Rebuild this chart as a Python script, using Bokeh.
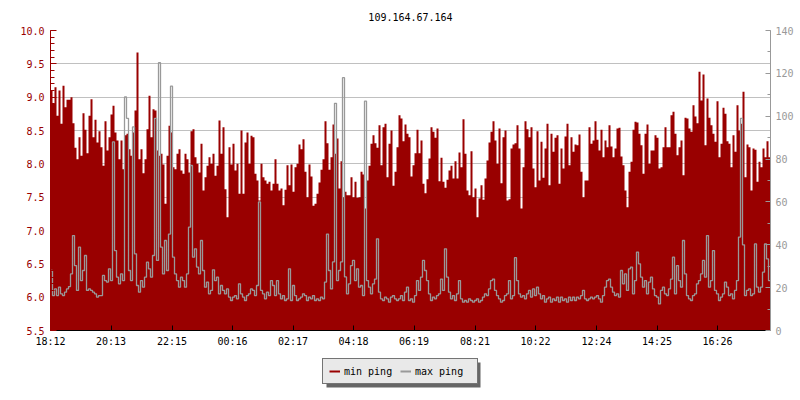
from bokeh.plotting import figure
from bokeh.layouts import column
from bokeh.models import (Range1d, LinearAxis, SingleIntervalTicker, FixedTicker,
                          PrintfTickFormatter, Legend, LegendItem, ColumnDataSource,
                          BoxAnnotation)
from bokeh.embed import file_html
from bokeh.resources import INLINE

TITLE = "109.164.67.164"
START = "18:12"
SPAN_MINUTES = 1440
TIME_LABELS = ["18:12", "20:13", "22:15", "00:16", "02:17", "04:18",
               "06:19", "08:21", "10:22", "12:24", "14:25", "16:26"]
SERIES_NAMES = ["min ping", "max ping"]

# min ping (left axis, ms)
MIN_PING = [
    9.10, 8.91, 9.15, 8.72, 9.10, 8.60, 9.17, 8.85, 8.96, 8.96,
    9.00, 8.61, 8.24, 8.07, 8.40, 8.12, 8.76, 8.51, 8.16, 8.72,
    8.97, 8.40, 8.66, 8.32, 8.49, 8.25, 7.97, 8.64, 8.20, 8.40,
    8.74, 8.87, 8.47, 8.35, 8.07, 8.35, 7.92, 8.43, 8.45, 8.22,
    8.12, 8.47, 8.80, 9.67, 8.07, 8.22, 7.86, 8.07, 8.52, 9.02,
    8.40, 8.82, 8.80, 8.20, 8.12, 8.15, 7.99, 7.40, 8.12, 8.57,
    8.47, 7.95, 7.92, 8.15, 8.22, 7.90, 7.85, 8.15, 8.07, 7.87,
    8.49, 8.52, 8.10, 8.00, 7.87, 8.30, 7.60, 7.80, 7.97, 8.10,
    8.00, 8.15, 7.82, 7.97, 8.65, 8.15, 8.55, 7.62, 7.20, 8.25,
    7.99, 8.30, 7.90, 8.00, 7.55, 8.50, 7.55, 8.32, 8.47, 8.00,
    8.42, 8.40, 7.85, 7.75, 7.45, 8.00, 7.80, 7.75,
    7.70, 7.73, 7.60, 7.70, 8.07, 7.70, 7.60, 7.63, 7.38, 7.61,
    7.98, 7.68, 7.99, 7.58, 7.95, 8.00, 8.29, 8.22, 8.37, 7.88,
    7.50, 7.99, 7.81, 7.37, 7.40, 7.55, 7.72, 7.91, 8.07, 8.64,
    8.31, 7.91, 8.10, 8.59, 8.15, 8.38, 7.63, 8.04, 7.50, 7.58,
    7.53, 7.53, 7.80, 7.50, 7.73, 7.49, 7.50, 7.88, 7.84, 7.33,
    7.75, 7.97, 8.30, 8.43, 8.31, 8.24, 8.58, 7.98, 8.55, 8.60,
    7.80, 8.30, 8.50, 7.67, 7.88, 8.25, 8.73, 8.68, 8.34, 8.59,
    8.45, 8.40, 7.81, 7.98, 8.16, 8.51, 8.16, 8.35, 7.70, 7.56,
    7.77, 8.08, 8.55, 8.48, 8.39, 8.53, 7.74, 8.09, 7.73, 7.64,
    7.76, 7.90, 7.97, 7.78, 8.04, 7.78, 8.17, 7.95, 8.67, 8.15,
    7.60, 7.53, 8.19, 7.50, 7.63, 7.20, 7.48, 7.68, 7.46, 7.78,
    8.05, 8.32, 8.48, 8.64, 8.35, 8.00, 8.53, 7.71, 8.40, 8.50,
    7.45, 7.47, 8.23, 8.29, 8.31, 8.58, 8.23, 7.33, 7.95, 8.64,
    8.52, 8.40, 8.55, 7.93, 7.65,
    8.49, 7.75, 8.33, 7.79, 8.23, 8.60, 7.68, 8.45, 8.18, 8.39,
    8.43, 7.70, 8.23, 7.93, 8.41, 8.60, 7.98, 8.40, 8.18, 8.29,
    8.28, 8.44, 7.88, 7.50, 7.75, 7.75, 8.55, 8.30, 8.35, 8.64,
    8.36, 8.20, 8.51, 8.10, 8.35, 8.25, 8.58, 8.26, 8.10, 8.23,
    8.53, 8.54, 8.11, 7.98, 7.60, 7.35, 7.88, 8.03, 8.51, 8.63,
    8.62, 8.45, 8.28, 7.85, 8.45, 8.59, 8.00, 8.20, 8.20, 8.43,
    8.39, 7.93, 7.95, 8.25, 8.55, 8.25, 8.25, 8.73, 8.78, 8.45,
    8.13, 8.25, 8.35, 7.83, 8.69, 8.68, 8.53, 8.48, 8.88, 8.71,
    8.61, 9.38, 8.95, 9.34, 8.28, 8.98, 8.69, 8.58, 8.45, 8.33,
    8.94, 8.10, 8.30, 8.84, 8.75, 8.34, 8.30, 7.95, 8.43, 8.18,
    8.88, 8.50, 8.60, 9.08, 7.80, 8.29, 8.25, 7.60, 8.23, 8.21,
    7.73, 8.03, 7.95, 8.23, 8.10, 8.34, 8.10,
]

# max ping (right axis, ms)
MAX_PING = [
    28, 16.3, 19.4, 16.3, 20.2, 17.1, 16.3, 17.9, 19.4, 20.5,
    26.4, 44.3, 30.3, 18.7, 38.9, 23.3, 28, 35, 18.7, 19.4,
    18.7, 17.9, 17.1, 15.6, 16.3, 16.3, 25.7, 23.3, 22.6, 28.8,
    23.3, 88, 37.3, 24.9, 21.8, 26.4, 23.3, 109, 99, 28,
    23.3, 95, 35.8, 21, 17.9, 23.3, 20.2, 24.9, 31.9, 28.8,
    24.9, 35, 99, 32.7, 125, 38.9, 26.4, 42, 28, 45,
    114, 34.2, 26.4, 23.3, 20.2, 24.9, 23.3, 20.2, 26.4, 48.2,
    77, 34.2, 38.1, 29.6, 26.4, 42, 28, 20.2, 22.6, 17.1,
    18.7, 28.3, 23.3, 24.9, 17.1, 21, 18.7, 17.1, 19.4, 15.6,
    14, 15.6, 16.3, 14.8, 21.8, 17.1, 15.6, 14, 16.3, 17.1,
    19.4, 18.7, 16.3, 21, 60, 18.7, 17.1, 14.8, 17.9, 16.3,
    23.3, 21, 16.3, 23.3, 17.1, 14.8, 16.3, 14, 14.8, 28.8,
    14, 21, 16.3, 14, 14.8, 15.6, 17.1, 16.3, 14, 15.6,
    14.8, 16.3, 14, 14.8, 14, 15.6, 14.8, 22.6, 45, 28,
    19.4, 32, 106, 23.3, 28, 32, 118, 25, 17.1, 21.8,
    30.3, 32.7, 23.3, 28.8, 20.2, 21, 16.3, 107, 23.3, 20.2,
    17.1, 21.8, 24, 42.8, 17.9, 14.8, 14, 15.6, 14.8, 13.2,
    15.6, 16.3, 14.8, 14, 14.8, 16.3, 14, 17.9, 20.2, 14,
    14.8, 13.2, 16.3, 23.3, 18.7, 24.9, 32.7, 28, 23.3, 17.1,
    14, 15.6, 14.8, 16.3, 17.1, 24, 18.7, 38.1, 24.9, 17.9,
    14.8, 16.3, 14, 17.1, 23.3, 14.8, 13.2, 14, 13.2, 14.8,
    14, 13.2, 14, 14.8, 13.2, 14, 15.6, 17.1, 16.3, 19.4,
    23.3, 24, 18.7, 16.3, 14.8, 13.2, 14, 16.3, 17.1, 23.3,
    14.8, 16.3, 34, 23.3, 17.1, 15.6, 16.3, 14.8, 17.1, 18.7,
    15.6, 19.4, 16.3, 20.2, 17.1,
    14.8, 16.3, 13.2, 14.8, 15.6, 13.2, 14.8, 14, 15.6, 13.2,
    15.6, 14, 14.8, 13.2, 15.6, 14, 15.6, 14, 15.6, 14.8,
    16.3, 18.7, 14.8, 14, 14.8, 15.6, 14.8, 15.6, 16.3, 14.8,
    13.2, 16.3, 20.2, 23.3, 24, 20.2, 17.9, 16.3, 17.1, 15.6,
    28, 21.8, 26.4, 18.7, 28.8, 29.6, 17.1, 23.3, 36.6, 31.1,
    24.9, 20.2, 23.3, 17.1, 22.6, 24.9, 19.4, 16.3, 15.6, 12.4,
    18.7, 20.2, 17.1, 16.3, 19.4, 24, 34.2, 17.1, 30.3, 23.3,
    20.2, 42, 26.4, 16.3, 14.8, 14, 16.3, 17.1, 21.8, 23.3,
    26.4, 32.7, 24.9, 44.3, 20.2, 23.3, 37.3, 18.7, 17.1, 14,
    15.6, 17.1, 22.6, 20.2, 16.3, 17.1, 14.8, 18.7, 23.3, 43.6,
    99, 40, 16.3, 18.7, 19.4, 16.3, 17.1, 40.4, 20.2, 17.9,
    20.2, 27.2, 40.4, 33.4, 23.3,
]

LEFT_RANGE = (5.5, 10.0)
RIGHT_RANGE = (0, 140)

RED = "#990000"
GRAY = "#999999"
FONT = "DejaVu Sans Mono"

n = len(MIN_PING)
step = SPAN_MINUTES / n
# bin edges: each sample holds its value for one bin ("after" step mode)
edges = [step * i for i in range(n + 1)]
lo_vals = MIN_PING + [MIN_PING[-1]]
hi_vals = MAX_PING + [MAX_PING[-1]]


def to_minutes(label):
    h, m = label.split(":")
    return int(h) * 60 + int(m)


start = to_minutes(START)
tick_pos = [(to_minutes(l) - start) % SPAN_MINUTES for l in TIME_LABELS]

W = 798
BORDER_L, BORDER_R = 50, 28

p = figure(width=W, height=352,
           x_range=Range1d(0, SPAN_MINUTES), y_range=Range1d(*LEFT_RANGE),
           output_backend="svg", toolbar_location=None, title=TITLE,
           min_border_left=BORDER_L, min_border_right=BORDER_R,
           min_border_top=30, min_border_bottom=22)
p.extra_y_ranges = {"max": Range1d(*RIGHT_RANGE)}
p.outline_line_color = None
p.background_fill_color = "white"
p.border_fill_color = "white"

p.title.align = "center"
p.title.vertical_align = "top"
p.title.text_font = FONT
p.title.text_font_size = "10px"
p.title.text_font_style = "normal"
p.title.text_color = "black"
p.title.standoff = 16

# grid
left_ticker = SingleIntervalTicker(interval=0.5, num_minor_ticks=5)
p.xgrid.visible = False
p.ygrid.ticker = left_ticker
p.ygrid.grid_line_color = "#c0c0c0"
p.ygrid.grid_line_width = 1

# bottom axis
xa = p.xaxis[0]
xa.ticker = FixedTicker(ticks=tick_pos, minor_ticks=[])
xa.major_label_overrides = {t: l for t, l in zip(tick_pos, TIME_LABELS)}
xa.axis_line_color = "black"
xa.major_tick_line_color = "black"
xa.major_tick_in = 5
xa.major_tick_out = 0
xa.minor_tick_line_color = None
xa.major_label_text_font = FONT
xa.major_label_text_font_size = "10px"
xa.major_label_text_color = "black"
xa.major_label_standoff = 5

# left axis
ya = p.yaxis[0]
ya.ticker = left_ticker
ya.formatter = PrintfTickFormatter(format="%.1f")
ya.axis_line_color = RED
ya.major_tick_line_color = RED
ya.minor_tick_line_color = RED
ya.major_tick_in = 6
ya.major_tick_out = 0
ya.minor_tick_in = 4
ya.minor_tick_out = 0
ya.major_label_text_font = FONT
ya.major_label_text_font_size = "10px"
ya.major_label_text_color = RED
ya.major_label_standoff = 6

# right axis
ra = LinearAxis(y_range_name="max",
                ticker=SingleIntervalTicker(interval=20, num_minor_ticks=2))
ra.axis_line_color = GRAY
ra.major_tick_line_color = GRAY
ra.minor_tick_line_color = GRAY
ra.major_tick_in = 5
ra.major_tick_out = 0
ra.minor_tick_in = 3
ra.minor_tick_out = 0
ra.major_label_text_font = FONT
ra.major_label_text_font_size = "10px"
ra.major_label_text_color = GRAY
ra.major_label_standoff = 5
p.add_layout(ra, "right")

src = ColumnDataSource(dict(x=edges, lo=lo_vals, hi=hi_vals))
p.varea_step(x="x", y1=LEFT_RANGE[0], y2="lo", source=src, step_mode="after",
             fill_color=RED)
p.step(x="x", y="hi", source=src, mode="after", y_range_name="max",
       line_color=GRAY, line_width=1.3)

# ---- legend strip below the chart (frame aligned with the chart's frame) ----
lf = figure(width=W, height=48, x_range=Range1d(0, 1), y_range=Range1d(0, 1),
            x_axis_location=None, y_axis_location=None,
            output_backend="svg", toolbar_location=None,
            min_border_left=BORDER_L, min_border_right=BORDER_R,
            min_border_top=0, min_border_bottom=0)
lf.grid.visible = False
lf.outline_line_color = None
lf.background_fill_color = "white"
lf.border_fill_color = "white"

# swatch renderers for the legend (a zero-length, off-screen stroke each)
sw_min = lf.line(x=[-1, -1], y=[-1, -1], line_color=RED, line_width=2)
sw_max = lf.line(x=[-1, -1], y=[-1, -1], line_color=GRAY, line_width=2)

# drop shadow (frame-relative screen pixels, y measured from the bottom)
lf.add_layout(BoxAnnotation(left=276, right=430, top=38, bottom=13,
                            left_units="screen", right_units="screen",
                            top_units="screen", bottom_units="screen",
                            fill_color="#666666", fill_alpha=1.0,
                            line_color=None))

legend = Legend(
    items=[LegendItem(label=SERIES_NAMES[0], renderers=[sw_min]),
           LegendItem(label=SERIES_NAMES[1], renderers=[sw_max])],
    orientation="horizontal", location=(272, 16),
    background_fill_color="#e9e9e9", background_fill_alpha=1.0,
    border_line_color="black", border_line_width=1,
    label_text_font=FONT, label_text_font_size="10px",
    label_text_color="black",
    glyph_width=11, glyph_height=12, label_height=12, label_width=56,
    label_standoff=4, padding=6, spacing=0, margin=0)
lf.add_layout(legend)

layout = column(p, lf, spacing=0)
open("out.html", "w").write(file_html(layout, INLINE))
